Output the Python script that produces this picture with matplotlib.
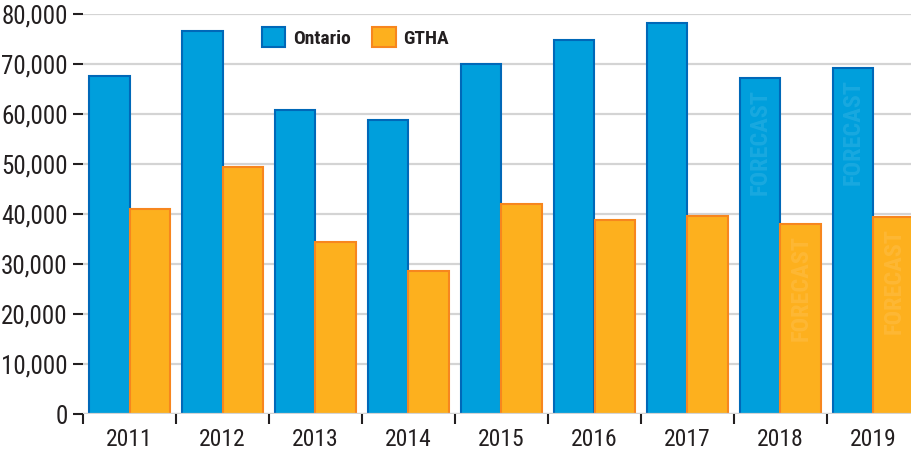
import matplotlib
matplotlib.use("Agg")
import matplotlib.pyplot as plt
import numpy as np
from matplotlib.patches import Patch

years = ["2011", "2012", "2013", "2014", "2015", "2016", "2017", "2018", "2019"]
ontario = [67700, 76600, 60800, 58800, 70000, 74800, 78200, 67300, 69300]
gtha = [41000, 49400, 34400, 28600, 42000, 38800, 39700, 38100, 39500]
forecast_years = ["2018", "2019"]
yticks = [0, 10000, 20000, 30000, 40000, 50000, 60000, 70000, 80000]
ytick_labels = ["0", "10,000", "20,000", "30,000", "40,000", "50,000", "60,000", "70,000", "80,000"]

plt.rcParams['font.family'] = ['Liberation Sans Narrow', 'Roboto Condensed', 'DejaVu Sans']

blue_fill, blue_edge = "#009FDC", "#0068B8"
orange_fill, orange_edge = "#FDB01E", "#F7861E"
text_col = "#231F20"
grid_col = "#D4D4D4"

fig = plt.figure(figsize=(9.12, 4.53), dpi=100)
ax = fig.add_axes([83/912, 1-414/453, 1-83/912, (414-14)/453])

x = np.arange(len(years))
w = 0.435
ax.bar(x - w/2, ontario, width=w, color=blue_fill, edgecolor=blue_edge, linewidth=1.5, zorder=3)
ax.bar(x + w/2, gtha, width=w, color=orange_fill, edgecolor=orange_edge, linewidth=1.5, zorder=3)

for i, yr in enumerate(years):
    if yr in forecast_years:
        for xc, val in [(x[i] - w/2, ontario[i]), (x[i] + w/2, gtha[i])]:
            ax.annotate("FORECAST", xy=(xc, val), xytext=(0, -8), textcoords="offset points",
                        rotation=90, ha="center", va="top", fontsize=17.5, fontweight="bold",
                        color="white", alpha=0.1, zorder=4)

ax.set_ylim(0, 80000)
ax.set_xlim(-0.5, (912-83)/93 - 0.5)
ax.set_yticks(yticks)
ax.set_yticklabels(ytick_labels)
ax.set_xticks(x)
ax.set_xticklabels(years)
ax.set_xticks(np.arange(-0.5, len(years) - 0.5, 1), minor=True)

ax.tick_params(axis="y", which="major", length=7, width=1.5, color=text_col, pad=4,
               labelsize=18, labelcolor=text_col)
ax.tick_params(axis="x", which="major", length=0, pad=10, labelsize=17, labelcolor=text_col)
ax.tick_params(axis="x", which="minor", length=7, width=1.5, color=text_col, direction="out")

for s in ax.spines.values():
    s.set_visible(False)
ax.grid(axis="y", color=grid_col, linewidth=1.6, zorder=0)
ax.set_axisbelow(True)
ax.axhline(0, color=grid_col, linewidth=1.6, zorder=5)

handles = [Patch(facecolor=blue_fill, edgecolor=blue_edge, linewidth=1.5, label="Ontario"),
           Patch(facecolor=orange_fill, edgecolor=orange_edge, linewidth=1.5, label="GTHA")]
leg = ax.legend(handles=handles, loc="upper left", bbox_to_anchor=((262-83)/829, 1 - 13/400),
                ncol=2, frameon=False, handlelength=1.2, handleheight=1.2, handletextpad=0.4,
                columnspacing=1.1, borderaxespad=0, borderpad=0,
                prop={"size": 14, "weight": "bold"})
for t in leg.get_texts():
    t.set_color(text_col)

fig.savefig("out.png", dpi=100)
